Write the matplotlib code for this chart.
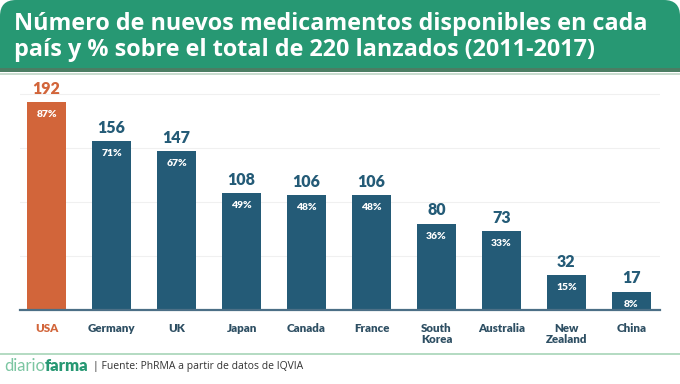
import matplotlib.pyplot as plt
from matplotlib.patches import FancyBboxPatch, Rectangle

# datos
paises = ['USA', 'Germany', 'UK', 'Japan', 'Canada', 'France',
          'South\nKorea', 'Australia', 'New\nZealand', 'China']
medicamentos = [192, 156, 147, 108, 106, 106, 80, 73, 32, 17]
porcentajes = ['87%', '71%', '67%', '49%', '48%', '48%', '36%', '33%', '15%', '8%']

titulo = 'Número de nuevos medicamentos disponibles en cada\npaís y % sobre el total de 220 lanzados (2011-2017)'
fuente = '| Fuente: PhRMA a partir de datos de IQVIA'

VERDE = '#279873'
NARANJA = '#d2653a'
AZUL = '#245b77'
TEXTO = '#2e4f63'

fig = plt.figure(figsize=(6.8, 3.84), dpi=100)

# capa de fondo en pixeles
bg = fig.add_axes([0, 0, 1, 1])
bg.set_xlim(0, 680)
bg.set_ylim(384, 0)
bg.axis('off')
bg.add_patch(FancyBboxPatch((0, 0), 680, 90, boxstyle='round,pad=0,rounding_size=16',
                            fc=VERDE, ec='none'))
bg.add_patch(Rectangle((0, 68), 680, 4, fc='#4b7d63', ec='none'))
bg.add_patch(Rectangle((0, 72), 680, 30, fc='white', ec='none'))
bg.add_patch(Rectangle((0, 73), 680, 1.5, fc='#c9dccf', ec='none'))
bg.add_patch(Rectangle((0, 353), 680, 2, fc='#b5dbc3', ec='none'))
bg.text(14, 56, titulo, color='white', fontsize=16.8, fontweight='bold',
        family='Open Sans', va='baseline', linespacing=1.1)

t1 = bg.text(4, 366, 'diario', color='#7cc6a2', fontsize=12, family='Lato',
             va='center')
fig.canvas.draw()
bb = t1.get_window_extent()
x1 = bb.x1 * 680 / fig.bbox.width
t2 = bg.text(x1, 366, 'farma', color=VERDE, fontsize=12, family='Lato',
             fontweight='heavy', va='center')
fig.canvas.draw()
x2 = t2.get_window_extent().x1 * 680 / fig.bbox.width
bg.text(x2 + 4, 366, fuente, color='#333333', fontsize=7.5, family='Open Sans',
        va='center')

# grafico de barras
ax = fig.add_axes([20 / 680, (384 - 310) / 384, 640 / 680, 227 / 384])
ax.set_facecolor('none')
x = list(range(len(paises)))
colores = [NARANJA] + [AZUL] * (len(paises) - 1)
ax.bar(x, medicamentos, width=0.6, color=colores, zorder=2)
ax.set_xlim(-0.41, 9.44)
ax.set_ylim(0, 210)
ax.set_yticks([50, 100, 150, 200])
ax.yaxis.grid(True, color='#f0f0f0', lw=0.8, zorder=0)
ax.tick_params(left=False, labelleft=False, bottom=False)
for s in ['top', 'right', 'left']:
    ax.spines[s].set_visible(False)
ax.spines['bottom'].set_color('#4c6f86')
ax.spines['bottom'].set_linewidth(1.6)
ax.spines['bottom'].set_zorder(3)

ax.set_xticks(x)
ax.set_xticklabels(paises, fontsize=8.3, fontweight='heavy', family='Lato',
                   linespacing=1.0)
ax.tick_params(axis='x', pad=6)
for lbl, c in zip(ax.get_xticklabels(), colores):
    lbl.set_color(NARANJA if c == NARANJA else TEXTO)

for i, (v, p) in enumerate(zip(medicamentos, porcentajes)):
    c = NARANJA if i == 0 else AZUL
    ax.annotate(str(v), (i, v), xytext=(0, 4), textcoords='offset points',
                ha='center', va='bottom', fontsize=11.5, fontweight='heavy',
                family='Lato', color=c)
    ax.annotate(p, (i, v), xytext=(0, -9), textcoords='offset points',
                ha='center', va='center', fontsize=7.5, fontweight='heavy',
                family='Lato', color='white')

fig.savefig('out.png', dpi=100)
